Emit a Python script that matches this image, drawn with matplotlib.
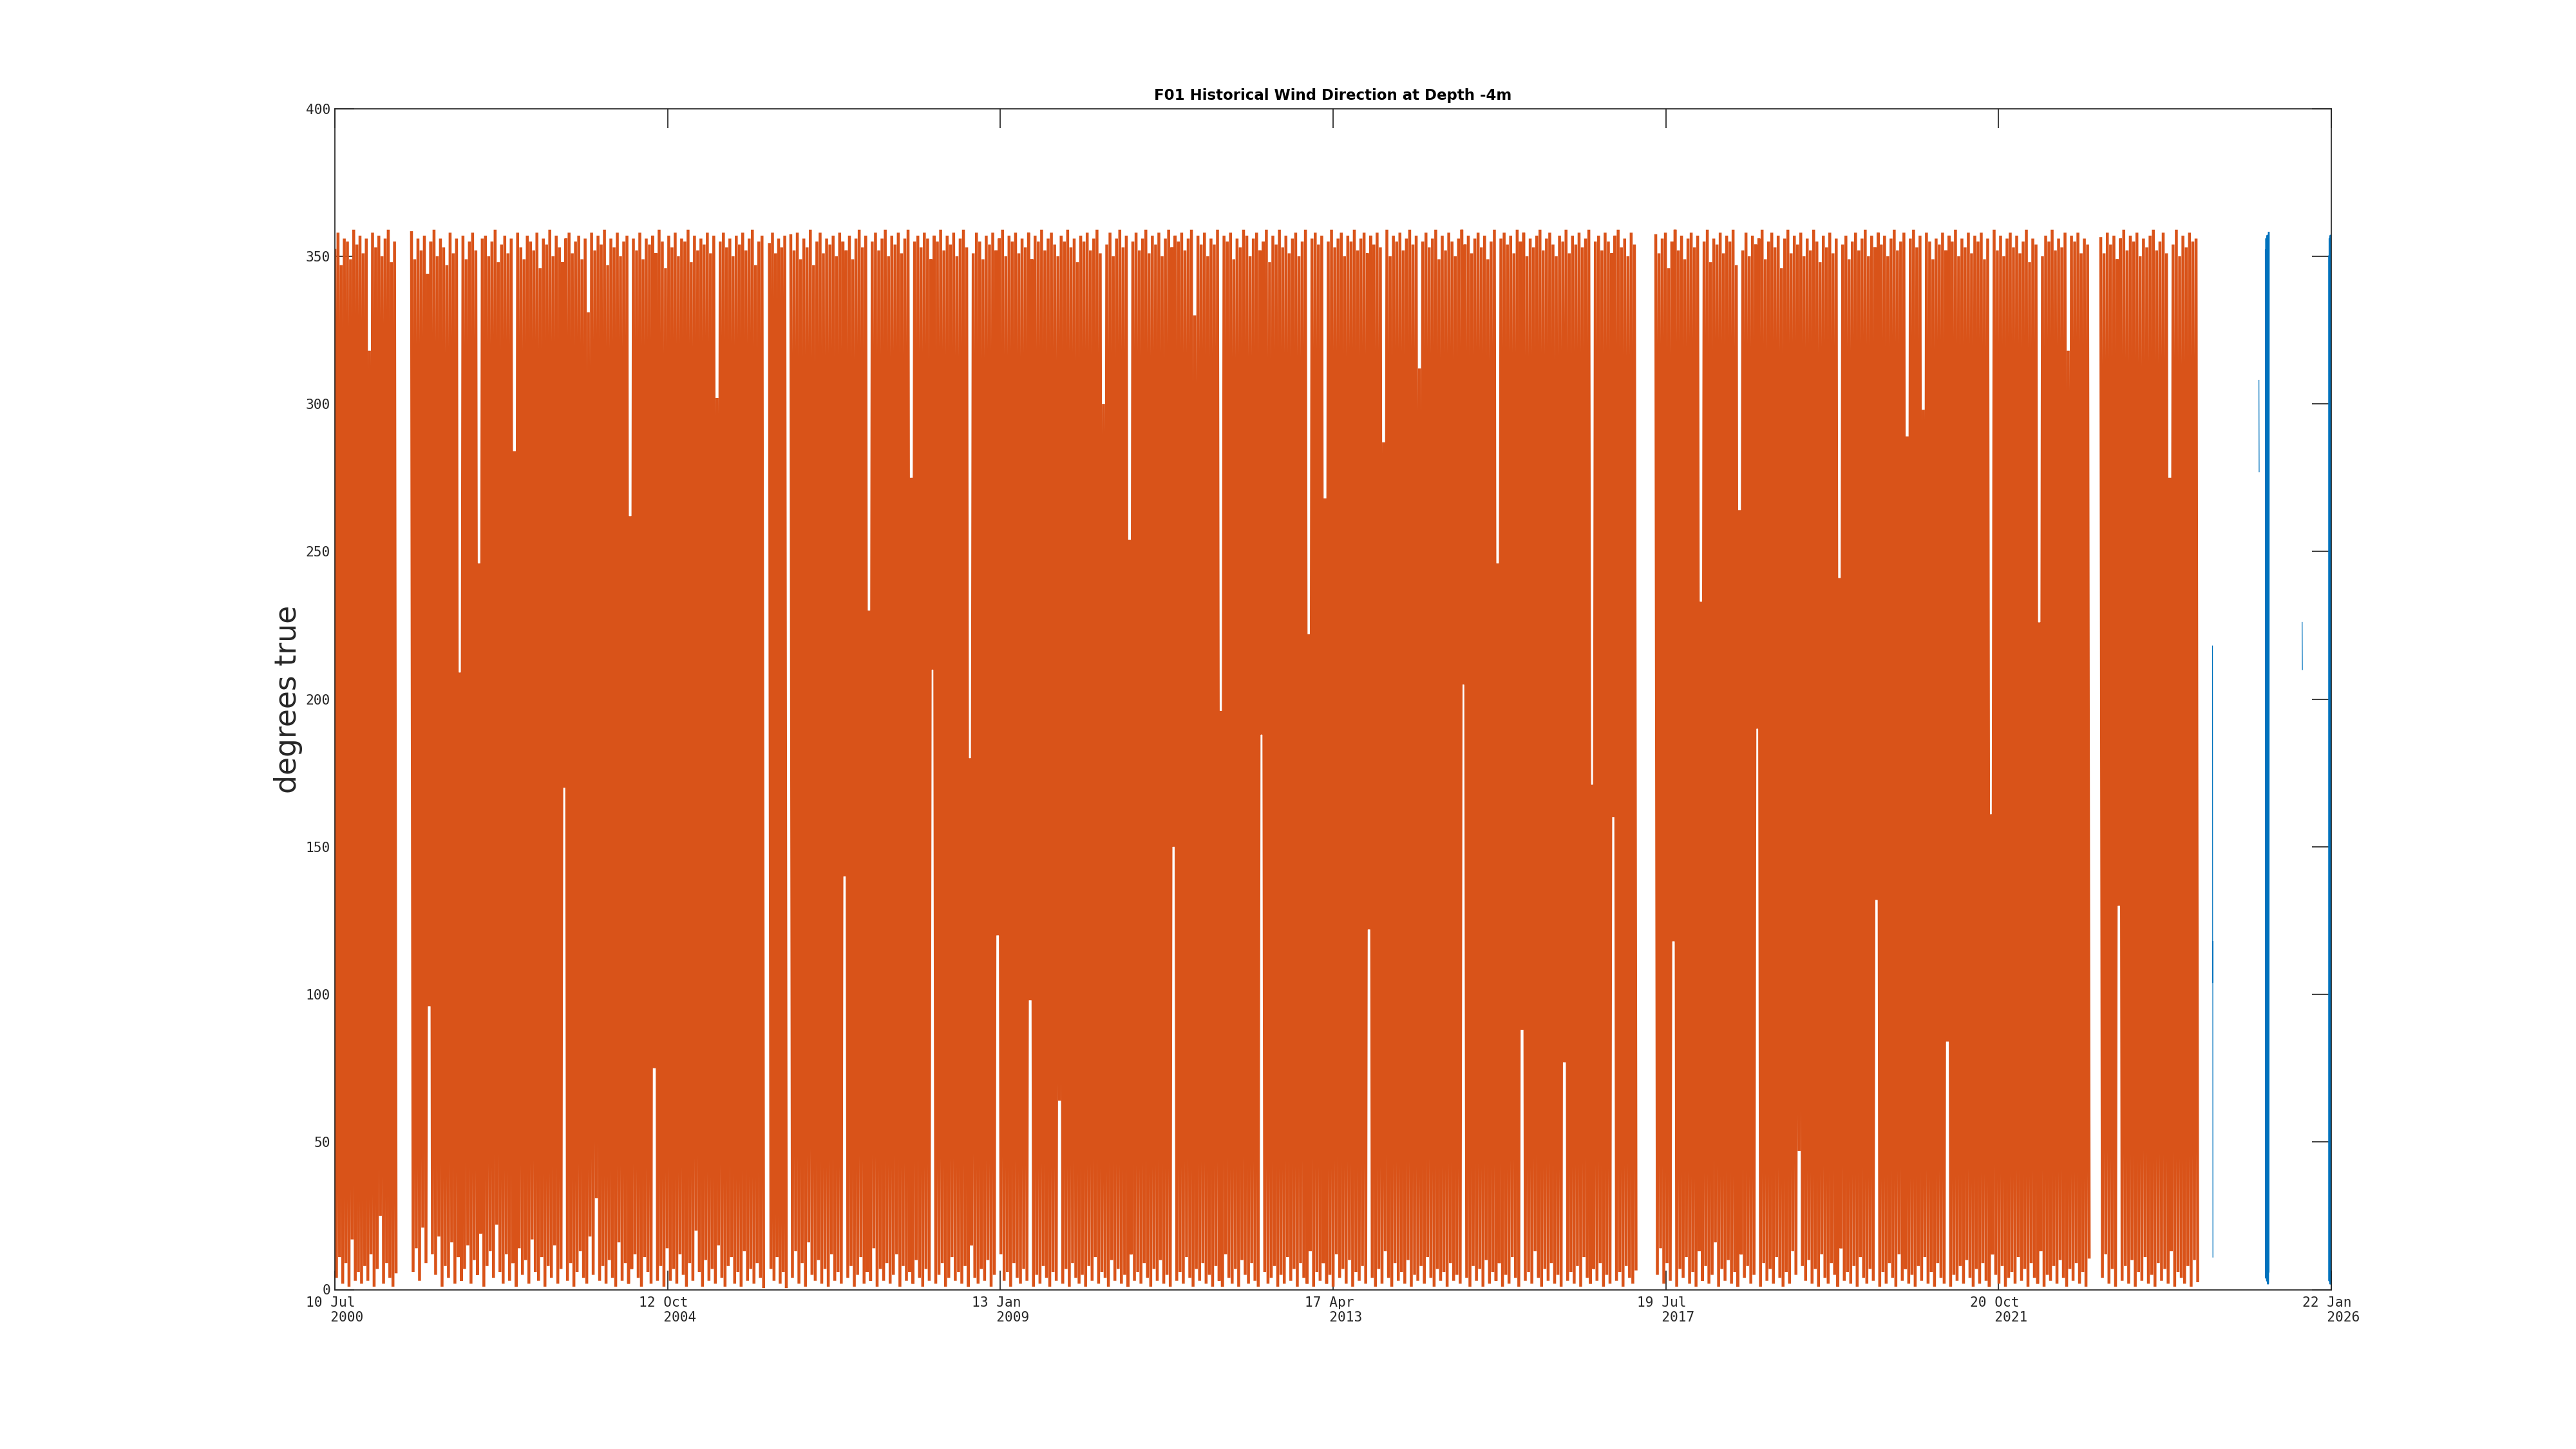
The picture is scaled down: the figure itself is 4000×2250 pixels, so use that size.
import numpy as np
import pandas as pd
import matplotlib
matplotlib.use("Agg")
import matplotlib.pyplot as plt

# F01 buoy, wind direction (degrees true)
# orange record, one list per continuous block (start, end)
blk1_span = ("2000-07-10", "2001-04-22")
blk1 = [352, 4, 358, 11, 347, 2, 356, 9, 355, 1, 349, 17, 359, 3, 354, 6, 357, 2, 351, 8,
        356, 3, 318, 12, 358, 1, 353, 7, 357, 25, 350, 2, 356, 9, 359, 4, 348, 1, 355, 6]

blk2_span = ("2001-07-03", "2006-01-03")
blk2 = [358, 6, 349, 14, 356, 3, 352, 21, 357, 9, 344, 96, 355, 12, 359, 5, 350, 18, 356, 1,
        353, 8, 347, 4, 358, 16, 351, 2, 356, 11, 209, 3, 357, 7, 349, 15, 355, 2, 358, 10,
        352, 5, 246, 19, 356, 1, 357, 8, 350, 13, 355, 4, 359, 22, 348, 6, 354, 2, 357, 12,
        351, 3, 356, 9, 284, 1, 358, 14, 353, 5, 349, 10, 357, 2, 355, 17, 352, 6, 358, 3,
        346, 11, 356, 1, 354, 8, 359, 4, 350, 15, 357, 2, 353, 7, 348, 170, 356, 3, 358, 9,
        351, 1, 355, 6, 357, 13, 349, 4, 356, 2, 331, 18, 358, 5, 352, 31, 357, 3, 354, 8,
        359, 2, 347, 10, 356, 4, 353, 1, 358, 16, 350, 3, 355, 9, 357, 2, 262, 7, 356, 12,
        352, 4, 358, 1, 349, 11, 356, 6, 354, 2, 357, 75, 351, 3, 359, 8, 355, 1, 346, 14,
        357, 3, 353, 7, 358, 2, 350, 12, 356, 5, 355, 1, 359, 9, 348, 3, 357, 20, 352, 6,
        356, 1, 354, 10, 358, 3, 351, 7, 357, 2, 302, 15, 355, 4, 358, 1, 353, 8, 356, 11,
        350, 2, 357, 6, 354, 1, 358, 13, 352, 3, 356, 7, 359, 2, 347, 9, 355, 4, 357, 1]

blk3_span = ("2006-01-30", "2006-04-19")
blk3 = [354, 7, 358, 3, 351, 11, 356, 2, 353, 6, 357, 1]

blk4_span = ("2006-05-10", "2017-03-02")
blk4 = [357, 4, 352, 13, 358, 2, 349, 9, 356, 1, 353, 16, 359, 5, 347, 3, 355, 10, 358, 2,
        351, 7, 356, 1, 354, 12, 357, 3, 350, 6, 358, 2, 355, 140, 352, 4, 357, 8, 349, 1,
        356, 5, 359, 11, 353, 2, 357, 6, 230, 3, 355, 14, 358, 1, 352, 7, 356, 3, 359, 9,
        350, 2, 357, 5, 354, 12, 358, 1, 351, 8, 356, 3, 359, 6, 275, 2, 355, 10, 357, 4,
        353, 1, 358, 7, 356, 3, 349, 210, 357, 2, 355, 5, 359, 9, 352, 1, 357, 4, 354, 11,
        358, 3, 350, 6, 356, 2, 359, 8, 353, 1, 180, 15, 351, 4, 358, 2, 355, 7, 349, 3,
        357, 10, 354, 1, 358, 5, 352, 120, 356, 12, 359, 3, 350, 6, 357, 1, 355, 9, 358, 4,
        351, 2, 356, 7, 353, 3, 358, 98, 349, 1, 357, 5, 355, 2, 359, 8, 352, 4, 356, 1,
        358, 6, 354, 3, 350, 64, 357, 2, 355, 7, 359, 1, 353, 9, 356, 4, 348, 2, 357, 5,
        355, 1, 358, 8, 352, 3, 356, 11, 359, 2, 351, 6, 300, 4, 354, 1, 358, 10, 350, 3,
        356, 7, 359, 2, 353, 5, 357, 1, 254, 12, 355, 3, 358, 6, 352, 2, 356, 9, 359, 4,
        351, 1, 357, 7, 354, 3, 358, 10, 350, 2, 356, 5, 359, 1, 353, 150, 357, 3, 355, 6,
        358, 2, 352, 11, 356, 4, 359, 1, 330, 7, 357, 3, 354, 9, 358, 2, 350, 5, 356, 1,
        354, 8, 359, 3, 196, 1, 357, 12, 355, 4, 358, 2, 349, 7, 356, 1, 353, 10, 359, 5,
        357, 2, 350, 9, 356, 3, 358, 1, 352, 188, 355, 6, 359, 2, 348, 4, 357, 8, 354, 1,
        359, 5, 353, 2, 357, 11, 351, 3, 356, 7, 358, 1, 350, 9, 355, 4, 359, 2, 222, 13,
        356, 1, 358, 6, 354, 3, 357, 9, 268, 2, 355, 5, 359, 1, 353, 12, 356, 4, 358, 7,
        350, 2, 357, 10, 355, 1, 359, 6, 352, 3, 356, 8, 358, 2, 351, 122, 357, 4, 354, 1,
        358, 7, 353, 2, 287, 13, 359, 4, 350, 1, 357, 9, 355, 3, 358, 6, 352, 2, 356, 10,
        359, 1, 354, 5, 357, 3, 312, 8, 355, 2, 358, 11, 353, 4, 356, 1, 359, 7, 349, 3,
        357, 6, 352, 1, 358, 9, 355, 3, 350, 5, 356, 2, 359, 205, 354, 4, 357, 1, 351, 8,
        356, 3, 358, 7, 353, 1, 357, 10, 349, 2, 355, 6, 359, 3, 246, 9, 356, 1, 358, 5,
        354, 2, 357, 11, 351, 4, 359, 1, 355, 88, 358, 3, 350, 6, 356, 2, 353, 13, 357, 4,
        359, 1, 352, 7, 356, 3, 358, 9, 354, 2, 350, 5, 357, 1, 355, 77, 359, 3, 351, 6,
        357, 2, 354, 8, 358, 1, 353, 11, 356, 4, 359, 2, 171, 7, 355, 3, 357, 9, 352, 1,
        358, 5, 355, 2, 351, 160, 357, 3, 359, 6, 353, 1, 356, 8, 350, 4, 358, 2, 354, 7]

blk5_span = ("2017-06-02", "2022-12-18")
blk5 = [357, 5, 351, 14, 356, 2, 358, 9, 346, 3, 355, 118, 359, 1, 352, 7, 357, 4, 349, 11,
        356, 2, 358, 6, 353, 1, 357, 13, 233, 3, 355, 8, 359, 2, 348, 5, 356, 16, 354, 1,
        358, 7, 351, 3, 357, 10, 355, 2, 359, 6, 347, 1, 264, 12, 352, 4, 358, 8, 350, 2,
        357, 5, 354, 190, 356, 1, 359, 9, 349, 3, 355, 7, 358, 2, 353, 11, 357, 4, 346, 1,
        356, 6, 359, 2, 351, 13, 357, 5, 354, 47, 358, 8, 350, 3, 356, 10, 352, 2, 359, 7,
        355, 1, 348, 12, 357, 4, 353, 2, 358, 9, 351, 5, 356, 1, 241, 14, 354, 3, 357, 6,
        349, 2, 355, 8, 358, 1, 352, 11, 356, 4, 359, 2, 350, 7, 357, 3, 353, 132, 358, 1,
        354, 6, 357, 2, 350, 9, 356, 4, 359, 1, 352, 12, 355, 3, 358, 7, 289, 2, 356, 5,
        359, 1, 353, 8, 357, 3, 298, 11, 358, 2, 355, 6, 349, 1, 356, 9, 354, 4, 358, 2,
        352, 84, 357, 1, 355, 5, 359, 3, 350, 8, 356, 2, 353, 10, 358, 4, 351, 1, 357, 7,
        355, 2, 358, 9, 349, 3, 356, 1, 161, 12, 359, 5, 352, 2, 357, 8, 350, 1, 356, 4,
        358, 6, 353, 2, 357, 11, 351, 3, 355, 7, 359, 1, 348, 9, 356, 4, 354, 2, 226, 13,
        350, 1, 357, 5, 355, 3, 359, 8, 352, 2, 356, 10, 353, 4, 358, 1, 318, 7, 357, 3,
        355, 9, 358, 2, 351, 6, 356, 1, 354, 11]

blk6_span = ("2023-02-10", "2024-05-08")
blk6 = [356, 4, 351, 12, 358, 2, 354, 7, 357, 1, 349, 130, 356, 3, 359, 8, 352, 2, 357, 10,
        355, 1, 358, 6, 350, 3, 356, 11, 353, 2, 357, 5, 359, 1, 352, 9, 355, 3, 358, 7,
        351, 2, 275, 13, 354, 1, 359, 6, 350, 4, 357, 2, 353, 8, 358, 1, 355, 10, 356, 3]

# blue record (recent deployment)
b1_span = ("2024-07-16", "2024-07-18")
b1 = [218, 176, 119, 104, 118, 63, 11]
b2_span = ("2025-02-18", "2025-02-19")
b2 = [308, 291, 277]
b3_span = ("2025-03-22", "2025-04-05")
b3 = [352, 4, 356, 8, 349, 3, 357, 12, 347, 2, 355, 6, 358]
b4_span = ("2025-09-08", "2025-09-09")
b4 = [226, 218, 210]
b5_span = ("2026-01-12", "2026-01-22")
b5 = [350, 3, 356, 7, 352, 2, 357, 5, 349, 3, 355]

tick_dates = ["2000-07-10", "2004-10-12", "2009-01-13", "2013-04-17",
              "2017-07-19", "2021-10-20", "2026-01-22"]
tick_labels = ["10 Jul\n   2000", "12 Oct\n   2004", "13 Jan\n   2009", "17 Apr\n   2013",
               "19 Jul\n   2017", "20 Oct\n   2021", "22 Jan\n   2026"]

orange = "#D95319"
blue = "#0072BD"
ink = "#262626"

fig = plt.figure(figsize=(16, 9), dpi=250)
ax = fig.add_axes([0.13, 0.11, 0.775, 0.815])


def series(span, vals):
    t = pd.date_range(span[0], span[1], periods=len(vals))
    return t, vals


for span, vals in [(blk1_span, blk1), (blk2_span, blk2), (blk3_span, blk3),
                   (blk4_span, blk4), (blk5_span, blk5), (blk6_span, blk6)]:
    t, v = series(span, vals)
    ax.plot(t, v, color=orange, lw=1.3, solid_joinstyle="miter")

for span, vals, w in [(b1_span, b1, 0.35), (b2_span, b2, 0.35), (b3_span, b3, 0.8),
                      (b4_span, b4, 0.35), (b5_span, b5, 0.8)]:
    t, v = series(span, vals)
    ax.plot(t, v, color=blue, lw=w)

ax.set_xlim(pd.Timestamp(tick_dates[0]), pd.Timestamp(tick_dates[-1]))
ax.set_ylim(0, 400)
ax.set_xticks(pd.to_datetime(tick_dates))
ax.set_xticklabels(tick_labels, family="DejaVu Sans Mono", fontsize=6.1,
                   color=ink, multialignment="left")
ax.set_yticks(np.arange(0, 401, 50))
ax.set_yticklabels([str(v) for v in range(0, 401, 50)], family="DejaVu Sans Mono",
                   fontsize=6.1, color=ink)
ax.tick_params(direction="in", length=8.6, width=0.5, color=ink,
               top=True, right=True, pad=2)
ax.tick_params(axis="x", pad=3)
for s in ax.spines.values():
    s.set_linewidth(0.5)
    s.set_color(ink)

ax.set_title("F01 Historical Wind Direction at Depth -4m", fontsize=6.6,
             fontweight="bold", pad=4)
ax.set_ylabel("degrees true", fontsize=13.2, color=ink)
ax.yaxis.set_label_coords(-0.0161, 0.5)

fig.savefig("out.png", dpi=250, facecolor="white")
